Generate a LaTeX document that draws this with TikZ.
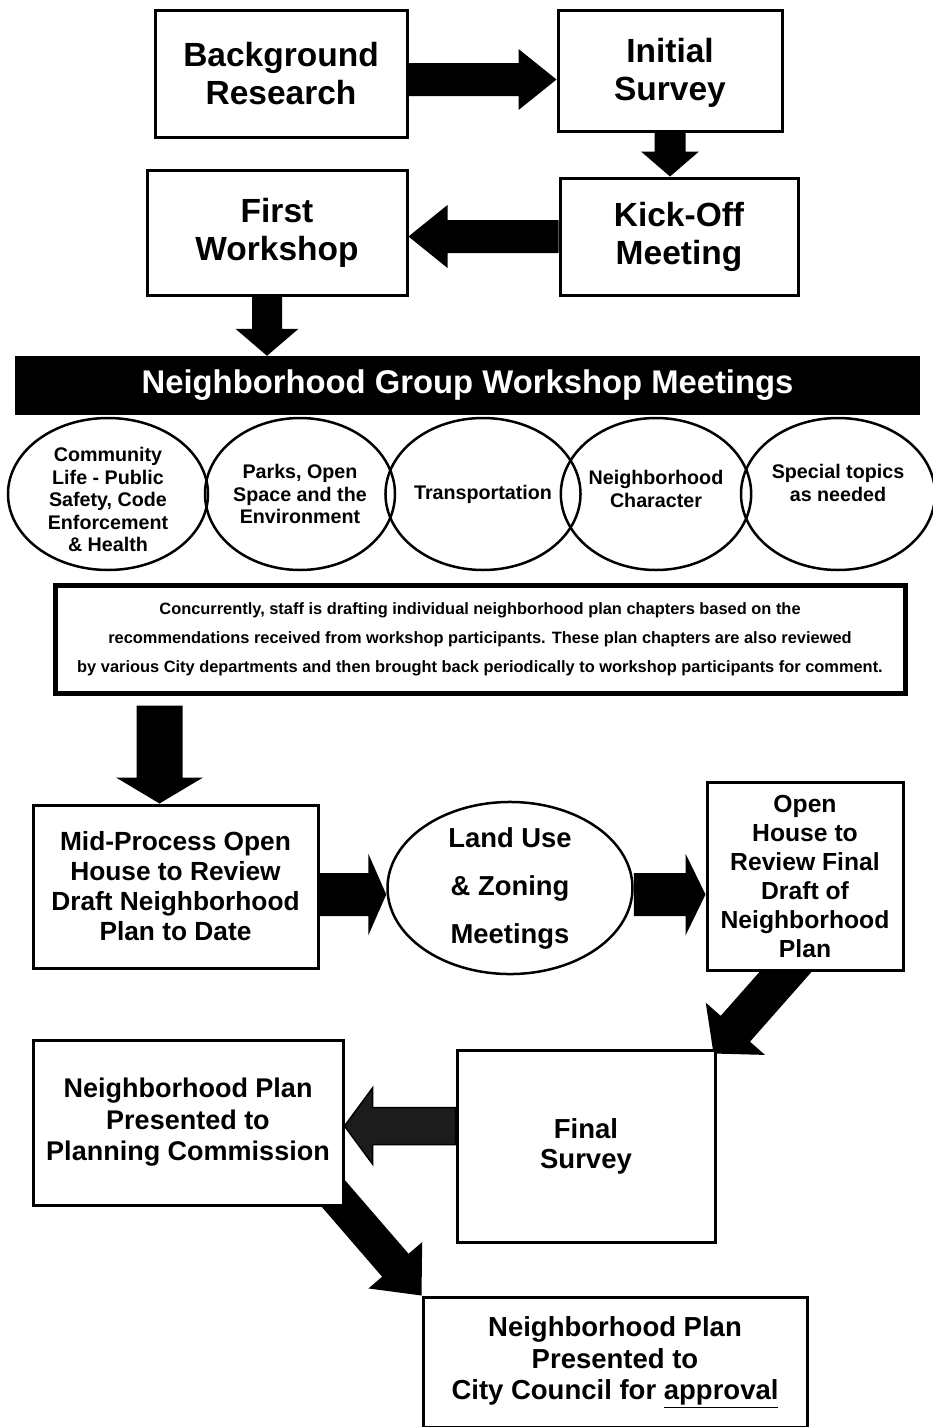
\documentclass[tikz,border=0pt]{standalone}
\usepackage{fontspec}
\setmainfont{Liberation Sans}
\usetikzlibrary{shapes.geometric,calc}
\pgfdeclarelayer{back}
\pgfdeclarelayer{bg}
\pgfsetlayers{back,bg,main}
% fat block arrow: #1 style, #2 start, #3 tip, #4 half shaft, #5 head length, #6 half head
\newcommand\fatarrow[6]{%
  \coordinate (faA) at (#2);
  \coordinate (faB) at (#3);
  \coordinate (faH) at ($(faB)!#5!(faA)$);
  \path[#1] ($(faA)!#4!90:(faB)$) -- ($(faH)!#4!90:(faB)$) -- ($(faH)!#6!90:(faB)$)
    -- (faB) -- ($(faH)!#6!-90:(faB)$) -- ($(faH)!#4!-90:(faB)$) -- ($(faA)!#4!-90:(faB)$) -- cycle;}
\begin{document}
\begin{tikzpicture}[x=1pt,y=-1pt,
  box/.style={draw=black,line width=3pt,fill=white,rectangle,inner sep=0pt,align=center},
  oval/.style={draw=black,line width=2.5pt,ellipse,inner sep=0pt,align=center,
    minimum height=152pt,font=\bfseries\fontsize{19.7}{22.5}\selectfont},
  arr/.style={fill=black},
  grayarr/.style={fill=gray!22!black,draw=black,line width=1.5pt}]
\begin{pgfonlayer}{back}
\fill[white] (0,0) rectangle (933,1427);
\end{pgfonlayer}
\useasboundingbox (0,0) rectangle (933,1427);

% top boxes
\node[box,minimum width=252pt,minimum height=127pt,font=\bfseries\fontsize{33.5}{38}\selectfont] (br) at (281,73.5) {Background\\Research};
\node[box,minimum width=224pt,minimum height=121pt,font=\bfseries\fontsize{33.5}{38}\selectfont,text depth=2pt] (is) at (670,70.5) {Initial\\Survey};
\node[box,minimum width=238pt,minimum height=117pt,font=\bfseries\fontsize{33.5}{38}\selectfont] (ko) at (679,236.5) {Kick-Off\\Meeting};
\node[box,minimum width=260pt,minimum height=125pt,font=\bfseries\fontsize{33.5}{38}\selectfont] (fw) at (277,232.5) {First\\Workshop};

% bar
\node[fill=black,minimum width=905pt,minimum height=59pt,inner sep=0pt,text=white,
  font=\bfseries\fontsize{32.8}{36}\selectfont] (bar) at (467.5,385.5) {Neighborhood Group Workshop Meetings};

% ellipses
\node[oval,minimum width=200pt,inner sep=-12pt] (e1) at (108,494) {\rule{0pt}{26pt}Community\\Life - Public\\Safety, Code\\Enforcement\\\& Health};
\node[oval,minimum width=190pt] (e2) at (300,494) {Parks, Open\\Space and the\\Environment};
\node[oval,minimum width=186pt] (e3) at (483,494) {Transportation};
\node[oval,minimum width=182pt,text depth=10pt] (e4) at (656,494) {Neighborhood\\Character};
\node[oval,minimum width=194pt,text depth=22pt] (e5) at (838,494) {Special topics\\as needed};

% text box
\node[draw=black,line width=5pt,fill=white,minimum width=850pt,minimum height=108pt,inner sep=0pt,
  align=center,font=\bfseries\fontsize{16.4}{29}\selectfont] (txt) at (480,639)
  {Concurrently, staff is drafting individual neighborhood plan chapters based on the\\
   recommendations received from workshop participants. These plan chapters are also reviewed\\
   by various City departments and then brought back periodically to workshop participants for comment.};

% middle row
\node[box,minimum width=285pt,minimum height=163pt,font=\bfseries\fontsize{26.3}{30}\selectfont] (mid) at (175.5,886.5)
  {Mid-Process Open\\House to Review\\Draft Neighborhood\\Plan to Date};
\node[draw=black,line width=2.5pt,ellipse,fill=white,minimum width=245pt,minimum height=160pt,inner sep=0pt,
  align=center,font=\bfseries\fontsize{27.4}{48}\selectfont] (land) at (510,888) {Land Use\\\& Zoning\\Meetings};
\node[box,minimum width=196pt,minimum height=188pt,font=\bfseries\fontsize{24.7}{29}\selectfont] (open) at (805,876)
  {Open\\House to\\Review Final\\Draft of\\Neighborhood\\Plan};

% bottom
\node[box,minimum width=258pt,minimum height=192pt,font=\bfseries\fontsize{27.5}{30}\selectfont] (fs) at (586,1146) {Final\\Survey};
\node[box,minimum width=310pt,minimum height=165pt,font=\bfseries\fontsize{27}{31.5}\selectfont] (pc) at (188,1122.5)
  {Neighborhood Plan\\Presented to\\Planning Commission};
\node[box,minimum width=384pt,minimum height=130pt,font=\bfseries\fontsize{27.5}{31.5}\selectfont] (cc) at (615,1362)
  {Neighborhood Plan\\Presented to\\City Council for \underline{approval}};

% arrows
\begin{pgfonlayer}{bg}
\coordinate (a1) at ($(br.east)+(0,6)$);
\fatarrow{arr}{a1}{a1 -| is.west}{16.5pt}{38pt}{30.5pt}
\fatarrow{arr}{is.south}{is.south |- ko.north}{15.5pt}{25pt}{29pt}
\fatarrow{arr}{ko.west}{ko.west -| fw.east}{16.5pt}{39pt}{31.5pt}
\coordinate (a4) at ($(fw.south)+(-10,0)$);
\fatarrow{arr}{a4}{a4 |- bar.north}{15pt}{27pt}{31.5pt}
\coordinate (a5) at ($(mid.north |- txt.south)+(-16,10)$);
\fatarrow{arr}{a5}{a5 |- mid.north}{23pt}{26pt}{43.5pt}
\coordinate (a6) at ($(mid.east)+(0,8)$);
\fatarrow{arr}{a6}{a6 -| land.west}{21.5pt}{18pt}{41pt}
\coordinate (a7) at (a6 -| land.east);
\fatarrow{arr}{a7}{a7 -| open.west}{21.5pt}{20pt}{41pt}
\coordinate (a8) at ($(open.south)+(-5,-16)$);
\coordinate (b8) at ($(fs.north east)+(-3,5)$);
\fatarrow{arr}{a8}{b8}{19.5pt}{33pt}{39.5pt}
\coordinate (a9) at ($(fs.west)+(0,-20)$);
\fatarrow{grayarr}{a9}{a9 -| pc.east}{18.5pt}{28pt}{38pt}
\coordinate (a10) at ($(pc.south east)+(-25,-29)$);
\fatarrow{arr}{a10}{cc.north west}{17.5pt}{40pt}{35.5pt}
\end{pgfonlayer}
\end{tikzpicture}
\end{document}
